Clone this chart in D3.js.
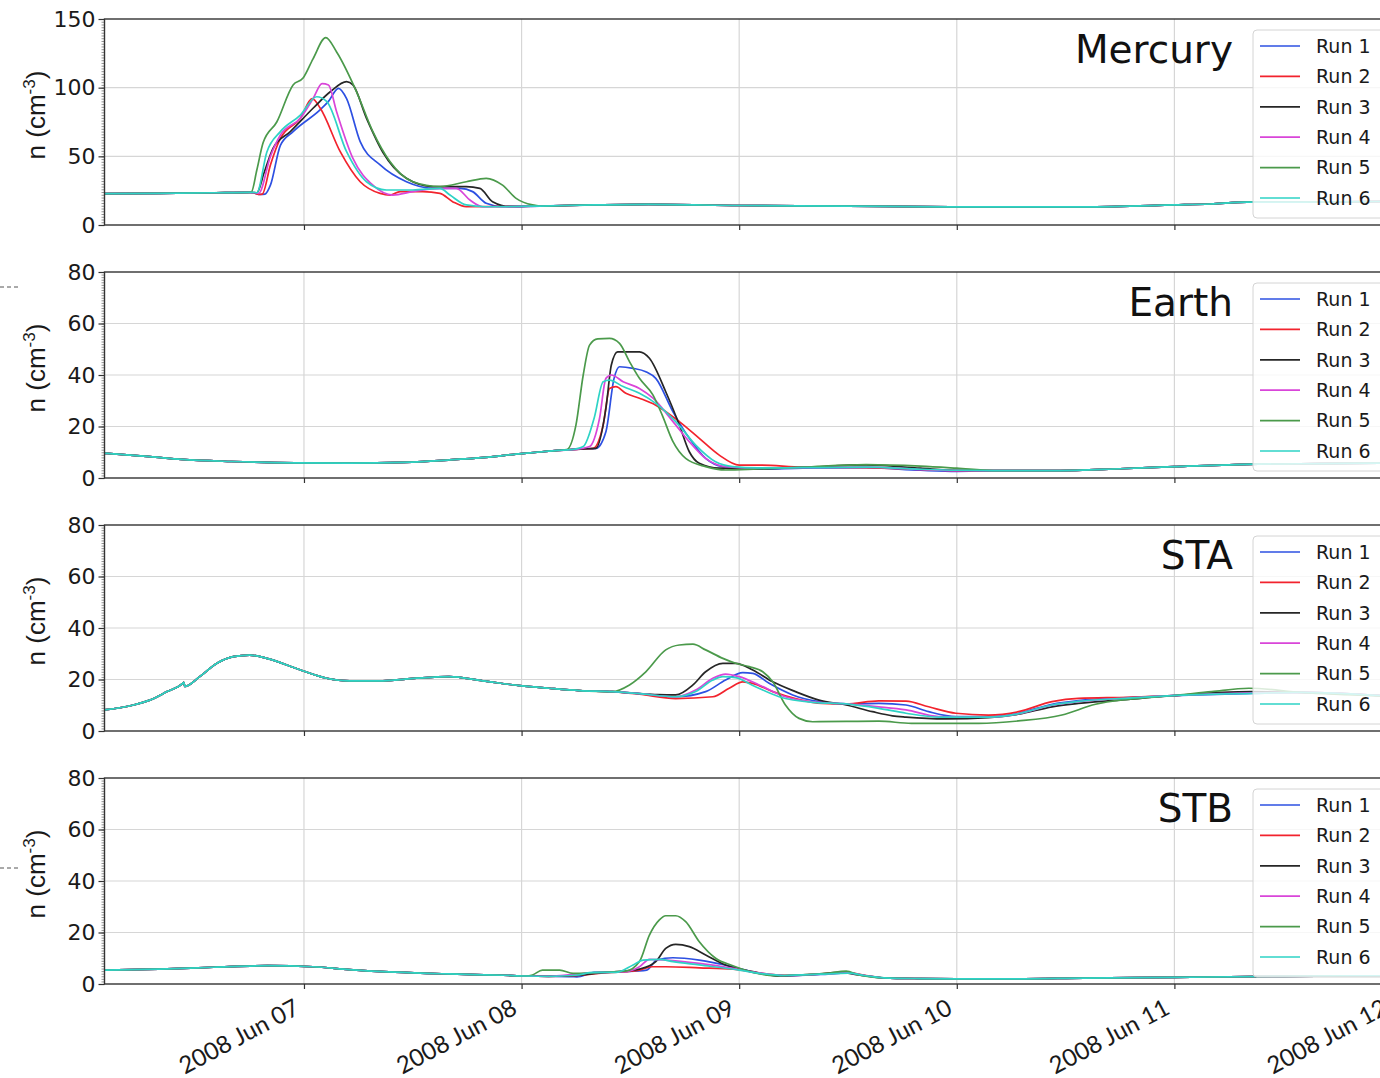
<!DOCTYPE html>
<html>
<head>
<meta charset="utf-8">
<script src="https://cdn.jsdelivr.net/npm/d3@7"></script>
<style>
  body { margin: 0; background: #fff; }
  svg { display: block; }
</style>
</head>
<body>
<svg id="chart" width="1380" height="1078"></svg>
<script>
// Solar-wind density at four locations, six model runs.
// Times are hours after 2008-06-06 00:00 UT, values are n in cm^-3.

const runNames  = ["Run 1", "Run 2", "Run 3", "Run 4", "Run 5", "Run 6"];
const runColors = ["#2d50e2", "#f2232d", "#262626", "#d945d9", "#4b9a4b", "#2ed3c6"];
const panelNames = ["Mercury", "Earth", "STA", "STB"];
const dateTicks = ["2008-06-07", "2008-06-08", "2008-06-09", "2008-06-10", "2008-06-11", "2008-06-12"];
const mercuryYTicks = [0, 50, 100, 150];
const planetYTicks  = [0, 20, 40, 60, 80];

// ---- Mercury ----
const mercuryBefore = [[2,22.8],[8,23.1],[14,23.5],[18,23.8]];
const mercuryAfter  = [[50,13.8],[56,14.6],[62,15],[72,14.2],[84,13.8],[96,13.2],[110,13.2],[120,14.6],[124,15.3],[128,16.6],[134,16.6],[144,17.2]];
const mercuryRun1 = [[18.4,23.5],[19.2,22.2],[19.7,22.5],[20.3,29],[21.4,58],[22.8,68],[25.8,84],[26.7,90],[27.8,99.5],[28.7,92],[30.2,60.7],[32.4,43.7],[35.3,31.5],[38.2,26.7],[41.2,26.7],[42.6,24.3],[44.1,15.8],[45.9,13.3]];
const mercuryRun2 = [[18.4,23.5],[19,22.2],[19.4,22.5],[20.3,43.7],[21.4,63],[23.6,77.7],[24.9,92],[25.8,85],[28,53.4],[30.2,31.5],[32.4,23],[33.5,21.8],[34.6,24.3],[37.1,24.3],[39,23],[40.4,17],[41.9,13.3]];
const mercuryRun3 = [[18.8,23.5],[19.6,38],[20.6,56],[22.5,68],[25,85],[26.9,97],[28.7,104.4],[29.4,102],[30.9,77.7],[32.7,53],[35.3,34],[38.2,28],[41.9,28],[43.4,26.7],[44.8,17],[46.7,13.5]];
const mercuryRun4 = [[18.6,23.5],[19,23],[20.3,50],[21.4,65.5],[23.6,77.7],[25,92],[26,103],[26.7,102],[27.6,82.5],[29.4,48.5],[31.6,29],[33.8,21.8],[36,24.3],[39,26.7],[40.8,26.7],[42.3,18.2],[43.7,13.3]];
const mercuryRun5 = [[18.2,24],[18.8,40],[19.5,60],[21,75],[22.8,102],[23.9,107],[25,121],[26.4,136.4],[27.6,126],[29.8,97],[31.6,68],[33.5,46],[36,31.5],[39,28],[41.9,31.5],[44.1,34],[45.9,29],[47.4,19.4],[49.2,14.6]];
const mercuryRun6 = [[18.4,23.8],[18.8,23.5],[19.9,53],[21.4,68],[23.6,80],[25.4,93.4],[26.5,90],[28.7,53.4],[30.9,31.5],[33.1,25.5],[36,25.5],[39,26.7],[40.1,21.8],[41.9,14.6],[44,13.3]];

// ---- Earth ----
const earthBefore = [[2,9.6],[7,8.3],[10.5,7.2],[16,6.4],[23,5.9],[29,5.8],[35,6.1],[40,7],[44,8],[48,9.5],[51,10.4],[52,10.7]];
const earthAfter  = [[100,2.9],[107,2.9],[114,3.6],[120,4.4],[128,5.3],[136,5.6],[144,5.8]];
const earthRun1 = [[55,11.3],[56.2,11.5],[57.3,18],[58.2,38.7],[58.8,43.2],[60.3,42.6],[61.7,41.3],[62.8,38.7],[64.7,25.7],[66.5,15.4],[68.3,7.6],[70.2,4.4],[74,3.4],[79,3.8],[86,4.0],[92,3.0],[96,2.6]];
const earthRun2 = [[54.5,11.2],[55.9,11.5],[57,20.6],[57.7,34.8],[58.4,35.5],[59.5,32.9],[61,31],[62.8,28.3],[65.4,21.9],[67.6,15.4],[69.8,8.9],[72,5],[74.2,5],[79,4.2],[86,4.0],[92,3.3],[96,2.9]];
const earthRun3 = [[54.7,11.3],[56.2,11.5],[57.3,27],[57.9,43.9],[58.6,49],[61,49],[62.1,46.5],[63.9,33.5],[65.4,20.6],[66.5,10.2],[67.6,5.7],[69.8,3.8],[74,3.6],[79,4.1],[86,5.1],[92,3.8],[96,3.0]];
const earthRun4 = [[54,11.1],[55.5,12.2],[56.6,23.2],[57.3,38.7],[57.9,40],[59.2,37.4],[61,34.8],[62.5,31],[64.7,21.9],[66.5,14.1],[68.3,7.6],[70.5,4.4],[74,3.8],[79,4.0],[86,4.2],[92,3.3],[96,2.9]];
const earthRun5 = [[53,11],[54,20.6],[54.8,40],[55.5,51.6],[56.4,54],[57.7,54.2],[58.8,52.3],[59.9,45.2],[61,38.7],[62.5,32.2],[63.5,24.5],[64.7,14.1],[66.1,7.6],[68.3,4.4],[70.5,3.1],[74,3.5],[79,4.2],[86,5.2],[92,4.6],[96,3.8]];
const earthRun6 = [[53.5,11],[54.8,12.2],[56,23.2],[57,37.4],[57.7,38],[59.2,35.5],[61,32.9],[62.8,29],[65,21.9],[67.2,12.8],[69.4,6.3],[71.3,4.4],[74,3.9],[79,4.0],[86,4.2],[92,3.4],[96,3.0]];

// ---- STEREO-A ----
const staBefore = [[2,8.2],[5.2,10.1],[7,12],[8.9,15.3],[10.6,18.4],[10.75,18.9],[10.85,17.3],[12.5,21.1],[14.4,26.3],[16.2,28.9],[18,29.5],[19.9,28.2],[23.6,23.7],[26.5,20.5],[29,19.5],[32.7,19.5],[36.4,20.5],[40,21.1],[43.7,19.5],[47.8,17.6],[51,16.6],[54.4,15.7],[58,15.3]];
const staAfter  = [[134,15],[144,13.5]];
const staRun1 = [[61,14.5],[65,13.3],[68.3,15.3],[70.5,19.8],[72.4,22.7],[73.5,22.4],[75.3,18.5],[77.9,14],[80.8,11.4],[83.8,10.5],[87.4,10.7],[90.4,10.1],[92.9,7.5],[95.9,5.6],[99.5,5.6],[102.8,6.9],[106.5,10.4],[109.4,11.8],[114.9,13],[119.7,13.7],[128.5,14.6]];
const staRun2 = [[61,14.3],[65,12.6],[69.1,13.3],[70.9,16.6],[72.4,19.1],[73.5,18.5],[75.7,15.3],[78.2,12.6],[81.2,10.7],[83.8,10.5],[87.4,11.7],[90.4,11.6],[92.9,9.4],[95.9,6.9],[99.5,6.2],[102.8,7.5],[106.5,11.4],[109.4,12.7],[114.9,13.1],[119.7,13.7],[124.1,14.6],[128.5,15]];
const staRun3 = [[61,14.5],[63,14.1],[65,14],[66.9,17.9],[68.3,23],[70.2,26.3],[71.6,26.3],[73.5,23.7],[75.7,19.1],[78.2,15.3],[80.8,12],[83.8,10.1],[86.7,7.5],[88.9,5.9],[90.4,5.4],[94.8,4.7],[99.5,5.2],[102.8,6.5],[106.5,9.4],[109.4,10.7],[114.9,12.3],[119.7,13.7],[128.5,15.3]];
const staRun4 = [[61,14.5],[65,13.3],[67.2,15.9],[69.1,20.5],[70.5,22.1],[72,21.1],[74.2,17.9],[77.1,13.3],[80.8,11.1],[83.8,10.5],[87.4,9.4],[90.4,8.2],[94,5.6],[99.5,5.4],[102.8,6.7],[106.5,10],[109.4,11.4],[114.9,12.8],[119.7,13.7],[128.5,14.8]];
const staRun5 = [[59.9,17.9],[61.7,23],[63.9,31.5],[65.4,33.4],[66.9,33.7],[68.3,31.5],[70.2,28.2],[71.6,26.3],[73.1,25],[74.6,23],[75.7,19.1],[77.1,10.1],[78.6,4.9],[80.1,3.6],[83.8,3.7],[87.4,3.8],[91,3.0],[98.4,3.0],[102.8,3.9],[107.6,6.2],[111.3,10.4],[114.9,12.3],[119.7,13.7],[124.1,15.3],[128.2,16.6]];
const staRun6 = [[61,14.5],[65,13.3],[67.2,15.3],[69.1,19.8],[70.2,21.1],[71.6,20.7],[73.8,17.2],[76.4,13.3],[80.1,11.1],[83.8,10.5],[87.4,8.8],[90.4,6.9],[94,5.4],[99.5,5.4],[102.8,6.7],[106.5,10.1],[109.4,11.5],[114.9,12.8],[119.7,13.7],[128.5,14.6]];

// ---- STEREO-B ----
const stbBefore = [[2,5.4],[8,5.8],[14,6.5],[20,7.1],[25,6.7],[29,5.6],[34,4.6],[40,3.9],[46,3.4],[48.5,3.1]];
const stbAfter  = [[88,2.4],[92,2.1],[96,2.0],[102,2.0],[110,2.3],[120,2.6],[132,3.0],[144,3.2]];
const stbRun1 = [[51,3.0],[53.5,2.9],[54.1,2.8],[56,4.5],[59.5,4.8],[61.8,5.4],[62.9,9.3],[64.7,10.2],[67.6,9.3],[71.3,6.7],[74.2,4.1],[77,3.2],[81,3.7],[84,4.3],[86,3.2]];
const stbRun2 = [[51,3.0],[54,3.2],[57,4.3],[59.5,4.8],[61,5.4],[62.4,6.7],[63.9,6.7],[67.6,6.3],[71.3,5.8],[74.2,4.3],[77,3.4],[81,3.9],[84,4.4],[86,3.3]];
const stbRun3 = [[51,3.0],[54,3.3],[57,4.4],[59,4.9],[61,5.8],[62.8,8.7],[63.9,13.8],[65,15.4],[66.5,14.5],[68.3,11.3],[70.5,7.4],[73.5,4.8],[76.4,3.1],[80.8,3.8],[83,4.5],[85.2,3.5],[87.4,2.5]];
const stbRun4 = [[51,3.0],[52.9,3.5],[56.6,4.5],[59.5,4.8],[61,6.7],[62.1,9.6],[63.9,9.3],[67.6,8.0],[71.3,6.1],[74.2,4.3],[77,3.3],[81,3.8],[84,4.3],[86,3.2]];
const stbRun5 = [[49.2,3.5],[50.3,5.4],[52.2,5.4],[53.7,4.1],[56.6,4.5],[59.5,5.0],[61,8.7],[62.1,19],[63.2,24.9],[63.9,26.5],[65,26.5],[66.1,24.2],[67.6,16.4],[69.4,10],[71.3,7.1],[73.5,4.5],[76,3.2],[78.6,3.5],[81.6,4.1],[83.8,5.0],[85.2,3.5],[87.4,2.5]];
const stbRun6 = [[51,3.0],[54,3.4],[55.9,4.5],[58.4,4.5],[60.3,7.4],[61.4,9.3],[63.2,9.6],[64.7,8.7],[67.6,7.4],[72,5.4],[74.5,4.0],[77,3.3],[81,3.8],[84,4.2],[86,3.2]];

// ---- assemble panel definitions ----
const panels = [
  { name: panelNames[0], yMax: 150, yTicks: mercuryYTicks, minorStep: 2,
    before: mercuryBefore, after: mercuryAfter,
    runs: [mercuryRun1, mercuryRun2, mercuryRun3, mercuryRun4, mercuryRun5, mercuryRun6] },
  { name: panelNames[1], yMax: 80, yTicks: planetYTicks, minorStep: 1,
    before: earthBefore, after: earthAfter,
    runs: [earthRun1, earthRun2, earthRun3, earthRun4, earthRun5, earthRun6] },
  { name: panelNames[2], yMax: 80, yTicks: planetYTicks, minorStep: 1,
    before: staBefore, after: staAfter,
    runs: [staRun1, staRun2, staRun3, staRun4, staRun5, staRun6] },
  { name: panelNames[3], yMax: 80, yTicks: planetYTicks, minorStep: 1,
    before: stbBefore, after: stbAfter,
    runs: [stbRun1, stbRun2, stbRun3, stbRun4, stbRun5, stbRun6] }
];

// full series = shared pre-event curve + run segment + shared late curve
function fullSeries(p, run) {
  const t0 = run[0][0], t1 = run[run.length - 1][0];
  return p.before.filter(d => d[0] < t0).concat(run, p.after.filter(d => d[0] > t1));
}

const epoch = Date.UTC(2008, 5, 6);
const toDate = h => new Date(epoch + h * 3600e3);

const svg = d3.select("#chart");
const left = 104.5, right = 1392, panelH = 206, panelGap = 253, firstTop = 19;

const x = d3.scaleUtc()
  .domain([new Date(Date.UTC(2008, 5, 6, 2)), new Date(Date.UTC(2008, 5, 12))])
  .range([left, right]);
const tickDates = dateTicks.map(s => new Date(s + "T00:00:00Z"));
const fmt = d3.utcFormat("%Y %b %d");

const defs = svg.append("defs");

panels.forEach((p, i) => {
  const top = firstTop + i * panelGap, bottom = top + panelH;
  const y = d3.scaleLinear().domain([0, p.yMax]).range([bottom, top]);
  const g = svg.append("g");

  defs.append("clipPath").attr("id", "clip" + i)
    .append("rect").attr("x", left).attr("y", top).attr("width", right - left).attr("height", panelH);

  // grid
  g.append("g").selectAll("line").data(p.yTicks.slice(1, -1)).join("line")
    .attr("x1", left).attr("x2", right).attr("y1", d => y(d)).attr("y2", d => y(d))
    .attr("stroke", "#d6d6d6").attr("stroke-width", 1.2);
  g.append("g").selectAll("line").data(tickDates).join("line")
    .attr("x1", d => x(d)).attr("x2", d => x(d)).attr("y1", top).attr("y2", bottom)
    .attr("stroke", "#d6d6d6").attr("stroke-width", 1.2);

  // minor y ticks
  const minor = g.append("g").attr("transform", `translate(${left},0)`)
    .call(d3.axisLeft(y).tickValues(d3.range(0, p.yMax + 0.001, p.minorStep)).tickSize(3).tickFormat(""));
  minor.select(".domain").remove();
  minor.selectAll("line").attr("stroke", "#666").attr("stroke-width", 0.7);

  // major y ticks
  const ya = g.append("g").attr("transform", `translate(${left},0)`)
    .call(d3.axisLeft(y).tickValues(p.yTicks).tickSize(6).tickPadding(3));
  ya.select(".domain").remove();
  ya.selectAll("line").attr("stroke", "#333").attr("stroke-width", 1.2);
  ya.selectAll("text").attr("font-family", "DejaVu Sans").attr("font-size", 22).attr("fill", "#1a1a1a");

  // x ticks
  const xa = g.append("g").attr("transform", `translate(0,${bottom})`)
    .call(d3.axisBottom(x).tickValues(tickDates).tickSize(5).tickFormat(""));
  xa.select(".domain").remove();
  xa.selectAll("line").attr("stroke", "#333").attr("stroke-width", 1.2);

  // y label
  const yl = g.append("text")
    .attr("transform", `translate(45,${top + panelH / 2 - 7}) rotate(-90)`)
    .attr("text-anchor", "middle")
    .attr("font-family", "Liberation Sans").attr("font-size", 26).attr("fill", "#1a1a1a");
  yl.append("tspan").text("n (cm");
  yl.append("tspan").attr("font-size", 17).attr("dy", -10).text("-3");
  yl.append("tspan").attr("dy", 10).text(")");

  // runs
  const line = d3.line()
    .x(d => x(toDate(d[0])))
    .y(d => y(d[1]))
    .curve(d3.curveMonotoneX);
  g.append("g").attr("clip-path", `url(#clip${i})`)
    .selectAll("path").data(p.runs).join("path")
    .attr("d", r => line(fullSeries(p, r)))
    .attr("fill", "none")
    .attr("stroke", (r, k) => runColors[k])
    .attr("stroke-width", 1.7)
    .attr("stroke-linejoin", "round");

  // frame
  g.append("rect").attr("x", left).attr("y", top).attr("width", right - left).attr("height", panelH)
    .attr("fill", "none").attr("stroke", "#333").attr("stroke-width", 1.4);

  // title
  g.append("text").attr("x", 1233).attr("y", top + 44).attr("text-anchor", "end")
    .attr("font-family", "DejaVu Sans").attr("font-size", 39).attr("fill", "#111").text(p.name);

  // legend
  const lg = g.append("g");
  lg.append("rect").attr("x", 1253).attr("y", top + 11).attr("width", 170).attr("height", 188).attr("rx", 4)
    .attr("fill", "#fff").attr("fill-opacity", 0.8).attr("stroke", "#d4d4d4");
  const rows = lg.selectAll("g.row").data(runNames).join("g").attr("class", "row")
    .attr("transform", (d, k) => `translate(0,${top + 27 + k * 30.4})`);
  rows.append("line").attr("x1", 1260).attr("x2", 1300)
    .attr("stroke", (d, k) => runColors[k]).attr("stroke-width", 1.7);
  rows.append("text").attr("x", 1316).attr("dy", "0.36em")
    .attr("font-family", "DejaVu Sans").attr("font-size", 19).attr("fill", "#1a1a1a").text(d => d);
});

// date labels under the last panel
const lastBottom = firstTop + 3 * panelGap + panelH;
svg.append("g").selectAll("text").data(tickDates).join("text")
  .attr("transform", d => `translate(${x(d) - 3},${lastBottom + 29}) rotate(-28)`)
  .attr("text-anchor", "end")
  .attr("font-family", "Lato").attr("font-size", 24).attr("fill", "#1a1a1a")
  .text(d => fmt(d));

// crop marks along the left edge
svg.append("g").selectAll("line").data([287, 868]).join("line")
  .attr("x1", 0).attr("x2", 18).attr("y1", d => d).attr("y2", d => d)
  .attr("stroke", "#555").attr("stroke-width", 1).attr("stroke-dasharray", "4,3");
</script>
</body>
</html>
